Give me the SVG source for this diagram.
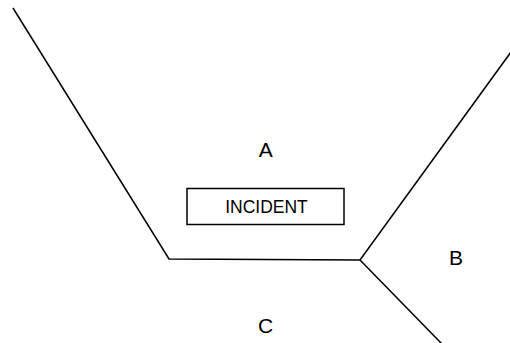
<svg xmlns="http://www.w3.org/2000/svg" width="510" height="343" viewBox="0 0 510 343">
  <style>
    .edge { fill: none; stroke: #000; stroke-width: 1.5; }
    .lbl { font-family: "Liberation Sans", Arial, sans-serif; fill: #000; text-anchor: middle; font-size: 21px; }
    .box { fill: #fff; stroke: #000; stroke-width: 1.5; }
    .box-text { font-family: "Liberation Sans", Arial, sans-serif; fill: #000; text-anchor: middle; font-size: 17.5px; }
  </style>
  <rect width="510" height="343" fill="#fff"/>
  <g id="connectors">
    <polyline class="edge" points="13,8 169,259 360,260"/>
    <line class="edge" x1="360" y1="260" x2="511" y2="52"/>
    <line class="edge" x1="360" y1="260" x2="442" y2="344"/>
  </g>
  <g id="region-a">
    <text class="lbl" x="265.7" y="156.5">A</text>
  </g>
  <g id="incident">
    <rect class="box" x="187" y="188.5" width="157" height="36"/>
    <text class="box-text" x="266.5" y="213.3">INCIDENT</text>
  </g>
  <g id="region-b">
    <text class="lbl" x="456" y="264.5">B</text>
  </g>
  <g id="region-c">
    <text class="lbl" x="265.7" y="332.5">C</text>
  </g>
</svg>
